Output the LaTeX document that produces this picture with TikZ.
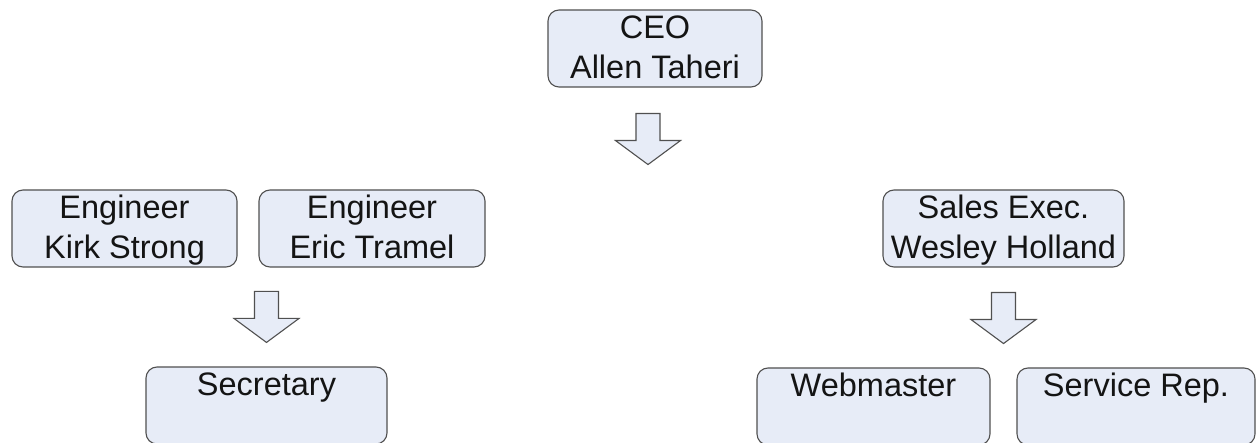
\documentclass[tikz,border=0pt]{standalone}
\usepackage{fontspec}
\setmainfont{Liberation Sans}
\usetikzlibrary{calc}
\definecolor{boxfill}{RGB}{231,236,247}
\definecolor{boxline}{RGB}{80,80,80}
\newcommand{\linestrut}{\vrule width 0pt height 29pt depth 8pt}
\tikzset{
	post/.style={
			draw=boxline, fill=boxfill, line width=1.1pt, rounded corners=11pt,
			inner sep=0pt, align=center, text=black!92,
			font=\fontsize{32.5}{40}\selectfont,
			minimum height=77pt
		},
	blockarrow/.pic={
			\path [draw=boxline, fill=boxfill, line width=1.1pt]
				(-12,0) -- (12,0) -- (12,27) -- (32.5,27) -- (0,51)
				-- (-32.5,27) -- (-12,27) -- cycle;
		}
}

\begin{document}
\begin{tikzpicture}[x=1pt, y=-1pt]
			\useasboundingbox (0,0) rectangle (1256,443);
			\clip (0,0) rectangle (1256,443);

			\node [post, minimum width=214pt] (ceo) at (655,48.5) {\linestrut CEO\\\linestrut Allen Taheri};

			\node [post, minimum width=225pt] (kirk) at (124.5,228.5) {\linestrut Engineer\\\linestrut Kirk Strong};
			\node [post, minimum width=226pt] (eric) at (372,228.5) {\linestrut Engineer\\\linestrut Eric Tramel};
			\node [post, minimum width=241pt] (sales) at (1003.5,228.5) {\linestrut Sales Exec.\\\linestrut Wesley Holland};

			\node [post, minimum width=241pt] (secretary) at (266.5,405.5) {\linestrut Secretary\\\linestrut};
			\node [post, minimum width=233pt] (webmaster) at (873.5,406.5) {\linestrut Webmaster\\\linestrut};
			\node [post, minimum width=238pt] (service) at (1136,406.5) {\linestrut Service Rep.\\\linestrut};

			\pic at ($(ceo.south)+(-7,26)$) {blockarrow};
			\pic at ($(secretary.north)+(0,-75)$) {blockarrow};
			\pic at ($(sales.south)+(0,25)$) {blockarrow};
		\end{tikzpicture}
\end{document}
